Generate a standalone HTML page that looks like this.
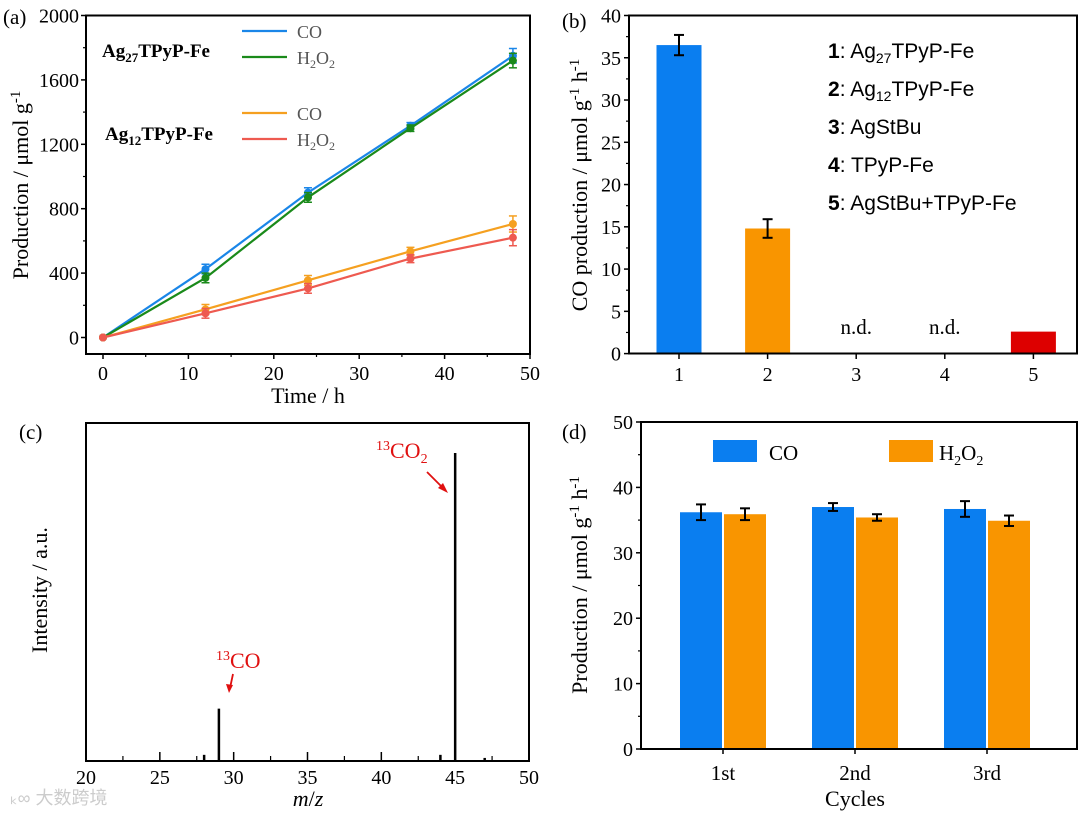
<!DOCTYPE html>
<html><head><meta charset="utf-8"><style>
body{margin:0;background:#fff}
svg{display:block;font-family:"Liberation Serif","Noto Serif CJK SC",serif}
</style></head><body>
<svg id="s" width="1080" height="815" viewBox="0 0 1080 815" xmlns="http://www.w3.org/2000/svg"></svg>
<script>
// ---- data ----
const aTimes=[0,12,24,36,48];
const aCO27=[0,425,900,1315,1750];
const aH2O227=[0,370,870,1300,1720];
const aCO12=[0,175,355,535,705];
const aH2O212=[0,150,305,490,620];
const aErr27=[0,30,30,20,45];
const aErr12=[0,30,30,25,50];
const aXTicks=[0,10,20,30,40,50];
const aYTicks=[0,400,800,1200,1600,2000];
const bCats=["1","2","3","4","5"];
const bVals=[36.5,14.8,0,0,2.6];
const bErr=[1.2,1.1,0,0,0];
const bYTicks=[0,5,10,15,20,25,30,35,40];
const cPeaksX=[28,29,44,45,47];
const cPeaksY=[2,17,2,100,1];
const cXTicks=[20,25,30,35,40,45,50];
const dCats=["1st","2nd","3rd"];
const dCO=[36.2,37.0,36.7];
const dH2O2=[35.9,35.4,34.9];
const dCOErr=[1.2,0.6,1.2];
const dH2O2Err=[0.9,0.5,0.8];
const dYTicks=[0,10,20,30,40,50];

const NS="http://www.w3.org/2000/svg";
const S=document.getElementById('s');
function mk(tag,attrs,parent,txt){const e=document.createElementNS(NS,tag);for(const k in attrs)e.setAttribute(k,attrs[k]);if(txt!==undefined)e.innerHTML=txt;(parent||S).appendChild(e);return e;}
function lin(d0,d1,r0,r1){return v=>r0+(v-d0)/(d1-d0)*(r1-r0);}
const TF=20;

// ===== Panel a =====
{
const g=mk('g',{});
const x=lin(0,50,103,530), y=lin(0,2000,337.5,15.5);
for(const t of aXTicks){mk('line',{x1:x(t),x2:x(t),y1:354,y2:359,stroke:'#000','stroke-width':1.5},g);
 const tl=mk('text',{x:x(t),y:380,'font-size':TF,'text-anchor':'middle'},g,t);}
for(let t=5;t<50;t+=10)mk('line',{x1:x(t),x2:x(t),y1:354,y2:357,stroke:'#000','stroke-width':1.2},g);
for(const t of aYTicks){mk('line',{x1:81,x2:86,y1:y(t),y2:y(t),stroke:'#000','stroke-width':1.5},g);
 const tl=mk('text',{x:79,y:y(t)+7,'font-size':TF,'text-anchor':'end'},g,t);}
for(let t=200;t<2000;t+=400)mk('line',{x1:83,x2:86,y1:y(t),y2:y(t),stroke:'#000','stroke-width':1.2},g);
const series=[[aCO27,'#1a86e8',aErr27,'co-27-line'],[aH2O227,'#1a8a1a',aErr27,'h2o2-27-line'],[aCO12,'#f5a020',aErr12,'co-12-line'],[aH2O212,'#ee5a50',aErr12,'h2o2-12-line']];
for(const [vals,col,err,name] of series){
 const p=mk('polyline',{points:aTimes.map((t,i)=>x(t)+','+y(vals[i])).join(' '),fill:'none',stroke:col,'stroke-width':2.2},g);
 
 aTimes.forEach((t,i)=>{const cx=x(t),cy=y(vals[i]),e=y(vals[i]+err[i])-cy;
  mk('line',{x1:cx,x2:cx,y1:cy+e,y2:cy-e,stroke:col,'stroke-width':1.5},g);
  mk('line',{x1:cx-4,x2:cx+4,y1:cy+e,y2:cy+e,stroke:col,'stroke-width':1.5},g);
  mk('line',{x1:cx-4,x2:cx+4,y1:cy-e,y2:cy-e,stroke:col,'stroke-width':1.5},g);
  const m=mk('circle',{cx:cx,cy:cy,r:4,fill:col},g);});
}
mk('rect',{x:86,y:15.5,width:444,height:338.5,fill:'none',stroke:'#000','stroke-width':2},g);
mk('text',{x:3,y:24,'font-size':21},g,'(a)');
mk('text',{x:102,y:57,'font-size':19,'font-weight':'bold'},g,'Ag<tspan font-size="13" dy="5">27</tspan><tspan dy="-5">TPyP-Fe</tspan>');
mk('text',{x:105,y:140,'font-size':19,'font-weight':'bold'},g,'Ag<tspan font-size="13" dy="5">12</tspan><tspan dy="-5">TPyP-Fe</tspan>');
const leg=[[31,'#1a86e8','CO'],[57,'#1a8a1a','H<tspan font-size="12" dy="4">2</tspan><tspan dy="-4">O</tspan><tspan font-size="12" dy="4">2</tspan>'],[113,'#f5a020','CO'],[139,'#ee5a50','H<tspan font-size="12" dy="4">2</tspan><tspan dy="-4">O</tspan><tspan font-size="12" dy="4">2</tspan>']];
for(const [ly,c,t] of leg){const lg=mk('g',{},g);
 mk('line',{x1:242,x2:287,y1:ly,y2:ly,stroke:c,'stroke-width':2.2},lg);mk('text',{x:297,y:ly+7,'font-size':18,fill:'#555'},lg,t);}
const xt=mk('text',{x:308,y:403,'font-size':22,'text-anchor':'middle'},g,'Time / h');
const yt=mk('text',{transform:'translate(28,185) rotate(-90)','font-size':22,'text-anchor':'middle'},g,'Production / μmol g<tspan font-size="15" dy="-8">-1</tspan>');
}

// ===== Panel b =====
{
const g=mk('g',{});
const x=i=>679+i*88.6, y=lin(0,40,353.6,15.5);
bCats.forEach((c,i)=>{mk('line',{x1:x(i),x2:x(i),y1:354,y2:359,stroke:'#000','stroke-width':1.5},g);
 const tl=mk('text',{x:x(i),y:381,'font-size':TF,'text-anchor':'middle'},g,c);});
for(const t of bYTicks){mk('line',{x1:624,x2:629,y1:y(t),y2:y(t),stroke:'#000','stroke-width':1.5},g);
 const tl=mk('text',{x:621,y:y(t)+7,'font-size':TF,'text-anchor':'end'},g,t);}
for(let t=2.5;t<40;t+=5)mk('line',{x1:626,x2:629,y1:y(t),y2:y(t),stroke:'#000','stroke-width':1.2},g);
const cols=['#0a7ef0','#f99500','#888','#888','#dd0000'];
bVals.forEach((v,i)=>{if(v<=0){mk('text',{x:x(i),y:334,'font-size':21,'text-anchor':'middle'},g,'n.d.');return;}
 const r=mk('rect',{x:x(i)-22.5,y:y(v),width:45,height:353.6-y(v),fill:cols[i]},g);
 if(bErr[i]>0){const a=y(v+bErr[i]),b=y(v-bErr[i]);
  mk('line',{x1:x(i),x2:x(i),y1:a,y2:b,stroke:'#000','stroke-width':2},g);
  mk('line',{x1:x(i)-5,x2:x(i)+5,y1:a,y2:a,stroke:'#000','stroke-width':2},g);
  mk('line',{x1:x(i)-5,x2:x(i)+5,y1:b,y2:b,stroke:'#000','stroke-width':2},g);}});
mk('rect',{x:629,y:15.5,width:448,height:338,fill:'none',stroke:'#000','stroke-width':2},g);
mk('text',{x:562,y:28,'font-size':21},g,'(b)');
const labs=['<tspan font-weight="bold">1</tspan>: Ag<tspan font-size="14" dy="5">27</tspan><tspan dy="-5">TPyP-Fe</tspan>','<tspan font-weight="bold">2</tspan>: Ag<tspan font-size="14" dy="5">12</tspan><tspan dy="-5">TPyP-Fe</tspan>','<tspan font-weight="bold">3</tspan>: AgStBu','<tspan font-weight="bold">4</tspan>: TPyP-Fe','<tspan font-weight="bold">5</tspan>: AgStBu+TPyP-Fe'];
labs.forEach((l,i)=>{const t=mk('text',{x:828,y:58+i*38,'font-family':'Liberation Sans, sans-serif','font-size':21},g,l);});
const yt=mk('text',{transform:'translate(587,185) rotate(-90)','font-size':22,'text-anchor':'middle'},g,'CO production / μmol g<tspan font-size="15" dy="-8">-1</tspan><tspan dy="8"> h</tspan><tspan font-size="15" dy="-8">-1</tspan>');
}

// ===== Panel c =====
{
const g=mk('g',{});
const x=lin(20,50,86,529), y=lin(0,100,761,453);
for(const t of cXTicks){mk('line',{x1:x(t),x2:x(t),y1:752,y2:761,stroke:'#000','stroke-width':1.5},g);
 const tl=mk('text',{x:x(t),y:784,'font-size':TF,'text-anchor':'middle'},g,t);}
for(let t=22.5;t<50;t+=5)mk('line',{x1:x(t),x2:x(t),y1:756,y2:761,stroke:'#000','stroke-width':1.2},g);
cPeaksX.forEach((p,i)=>{const l=mk('line',{x1:x(p),x2:x(p),y1:761,y2:y(cPeaksY[i]),stroke:'#000','stroke-width':2.5},g);});
mk('rect',{x:86,y:423,width:443,height:338,fill:'none',stroke:'#000','stroke-width':2},g);
mk('text',{x:19,y:439,'font-size':21},g,'(c)');
mk('text',{x:376,y:458,'font-size':22,fill:'#e01010'},g,'<tspan font-size="14" dy="-8">13</tspan><tspan dy="8">CO</tspan><tspan font-size="14" dy="5">2</tspan>');
mk('text',{x:216,y:668,'font-size':22,fill:'#e01010'},g,'<tspan font-size="14" dy="-8">13</tspan><tspan dy="8">CO</tspan>');
mk('line',{x1:427,x2:445,y1:472,y2:490,stroke:'#e01010','stroke-width':1.8},g);
mk('polygon',{points:'448,493 438,488 443,483',fill:'#e01010'},g);
mk('line',{x1:233,x2:230,y1:674,y2:688,stroke:'#e01010','stroke-width':1.8},g);
mk('polygon',{points:'229,693 226,684 233,685',fill:'#e01010'},g);
const xt=mk('text',{x:308,y:806,'font-size':22,'text-anchor':'middle','font-style':'italic'},g,'m<tspan font-style="normal">/</tspan>z');
const yt=mk('text',{transform:'translate(47,590) rotate(-90)','font-size':22,'text-anchor':'middle'},g,'Intensity / a.u.');
mk('text',{x:10,y:804,'font-size':18,fill:'#ccc','font-family':'Liberation Sans, Noto Sans CJK SC, sans-serif'},g,'ₖ∞ 大数跨境');
}

// ===== Panel d =====
{
const g=mk('g',{});
const x=i=>723+i*132, y=lin(0,50,749,422);
dCats.forEach((c,i)=>{mk('line',{x1:x(i),x2:x(i),y1:749,y2:754,stroke:'#000','stroke-width':1.5},g);
 const tl=mk('text',{x:x(i),y:780,'font-size':21,'text-anchor':'middle'},g,c);});
for(const t of dYTicks){mk('line',{x1:636,x2:641,y1:y(t),y2:y(t),stroke:'#000','stroke-width':1.5},g);
 const tl=mk('text',{x:633,y:y(t)+7,'font-size':TF,'text-anchor':'end'},g,t);}
for(let t=5;t<50;t+=10)mk('line',{x1:638,x2:641,y1:y(t),y2:y(t),stroke:'#000','stroke-width':1.2},g);
function bar(cx,v,e,col,name){const r=mk('rect',{x:cx,y:y(v),width:42,height:749-y(v),fill:col},g);
 const m=cx+21,a=y(v+e),b=y(v-e);
 mk('line',{x1:m,x2:m,y1:a,y2:b,stroke:'#000','stroke-width':2},g);
 mk('line',{x1:m-5,x2:m+5,y1:a,y2:a,stroke:'#000','stroke-width':2},g);
 mk('line',{x1:m-5,x2:m+5,y1:b,y2:b,stroke:'#000','stroke-width':2},g);}
dCats.forEach((c,i)=>{bar(x(i)-43,dCO[i],dCOErr[i],'#0a7ef0','bar-co-'+c);bar(x(i)+1,dH2O2[i],dH2O2Err[i],'#f99500','bar-h2o2-'+c);});
mk('rect',{x:641,y:422,width:436,height:327,fill:'none',stroke:'#000','stroke-width':2},g);
mk('text',{x:562,y:439,'font-size':21},g,'(d)');
const l1=mk('g',{},g);
mk('rect',{x:713,y:440,width:44,height:22,fill:'#0a7ef0'},l1);mk('text',{x:769,y:460,'font-size':21},l1,'CO');
const l2=mk('g',{},g);
mk('rect',{x:889,y:440,width:44,height:22,fill:'#f99500'},l2);mk('text',{x:939,y:460,'font-size':21},l2,'H<tspan font-size="14" dy="5">2</tspan><tspan dy="-5">O</tspan><tspan font-size="14" dy="5">2</tspan>');
const xt=mk('text',{x:855,y:806,'font-size':22,'text-anchor':'middle'},g,'Cycles');
const yt=mk('text',{transform:'translate(587,585) rotate(-90)','font-size':22,'text-anchor':'middle'},g,'Production / μmol g<tspan font-size="15" dy="-8">-1</tspan><tspan dy="8"> h</tspan><tspan font-size="15" dy="-8">-1</tspan>');
}
</script>
</body></html>
